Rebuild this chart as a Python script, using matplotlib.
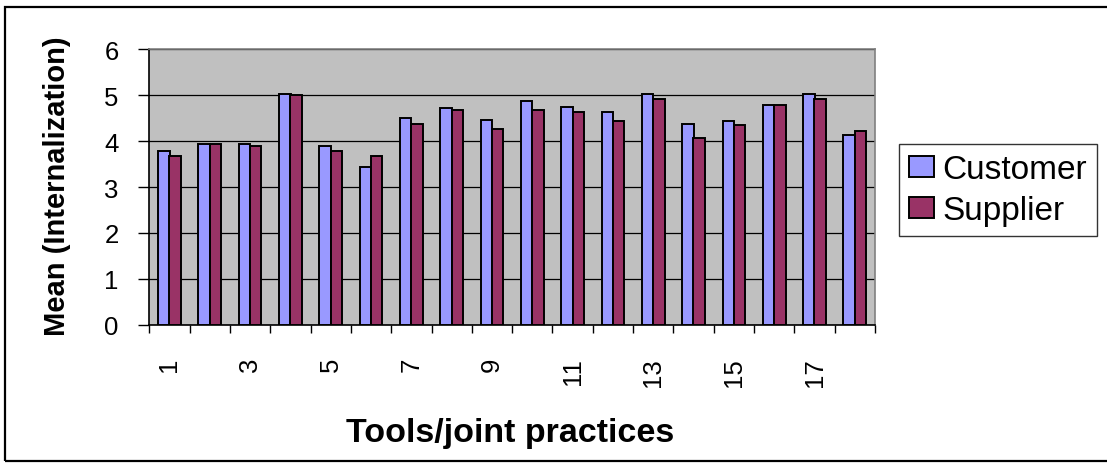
import numpy as np
import matplotlib
matplotlib.use("Agg")
import matplotlib.pyplot as plt
from matplotlib.patches import Rectangle

# Mean internalization scores per tool / joint practice
practices = [str(i) for i in range(1, 19)]
customer = [3.79, 3.93, 3.93, 5.03, 3.90, 3.43, 4.50, 4.71, 4.46,
            4.87, 4.75, 4.63, 5.03, 4.38, 4.43, 4.78, 5.03, 4.14]
supplier = [3.67, 3.93, 3.90, 4.99, 3.79, 3.67, 4.38, 4.67, 4.27,
            4.67, 4.63, 4.43, 4.91, 4.07, 4.35, 4.78, 4.91, 4.22]
series_names = ["Customer", "Supplier"]
y_ticks = [0, 1, 2, 3, 4, 5, 6]

FONT = "Liberation Sans"
plt.rcParams["font.family"] = FONT
plt.rcParams["xtick.labelsize"] = 18.5
plt.rcParams["ytick.labelsize"] = 18.5
W, H = 1107, 464
fig = plt.figure(figsize=(W / 100, H / 100), dpi=100)

# outer chart border
fig.patches.append(Rectangle((5 / W, 1 - 462 / H), 1.2, (462 - 8) / H,
                             transform=fig.transFigure, fill=False,
                             edgecolor="black", linewidth=1.6, zorder=0))

ax = fig.add_axes([149.3 / W, 1 - 326 / H, (875 - 149.3) / W, 276 / H])
ax.set_facecolor("#C0C0C0")

x = np.arange(len(practices))
bw = 0.285
b1 = ax.bar(x - 0.14, customer, bw, color="#9999FF", edgecolor="black",
            linewidth=1.4, label=series_names[0], zorder=3)
b2 = ax.bar(x + 0.14, supplier, bw, color="#993366", edgecolor="black",
            linewidth=1.4, label=series_names[1], zorder=3)

ax.set_xlim(-0.5, len(practices) - 0.5)
ax.set_ylim(0, 6)
ax.set_yticks(y_ticks, [str(v) for v in y_ticks])
ax.yaxis.grid(True, color="black", linewidth=0.9, zorder=1)
ax.set_axisbelow(True)

# labels on every other category, tick marks on category boundaries
ax.set_xticks(x[::2], practices[::2])
ax.set_xticks(np.arange(-0.5, len(practices)), minor=True)
ax.tick_params(axis="x", which="major", length=0, pad=23, labelrotation=90)
ax.tick_params(axis="x", which="minor", length=6, width=1, direction="out")
ax.tick_params(axis="y", which="major", length=8, width=1, direction="out",
               pad=14)
for lbl in ax.get_xticklabels():
    lbl.set_va("top")
    lbl.set_ha("center")

for side in ("top", "right"):
    ax.spines[side].set_color("#808080")
    ax.spines[side].set_linewidth(1.2)
for side in ("left", "bottom"):
    ax.spines[side].set_color("black")
    ax.spines[side].set_linewidth(1.2)

fig.text(57.5 / W, 1 - 186 / H, "Mean (Internalization)", rotation=90,
         ha="center", va="center", fontsize=21, fontweight="bold")
fig.text(510 / W, 1 - 442 / H, "Tools/joint practices", ha="center",
         va="baseline", fontsize=24.5, fontweight="bold")

leg = fig.legend(handles=[b1, b2], loc="upper left",
                 bbox_to_anchor=(899 / W, 1 - 145 / H), borderaxespad=0,
                 prop={"size": 24}, fancybox=False,
                 frameon=True, handlelength=0.75, handleheight=0.6,
                 handletextpad=0.25, borderpad=0.3, labelspacing=0.3)
leg.get_frame().set_edgecolor("black")
leg.get_frame().set_linewidth(1.0)

fig.savefig("out.png", dpi=100)
